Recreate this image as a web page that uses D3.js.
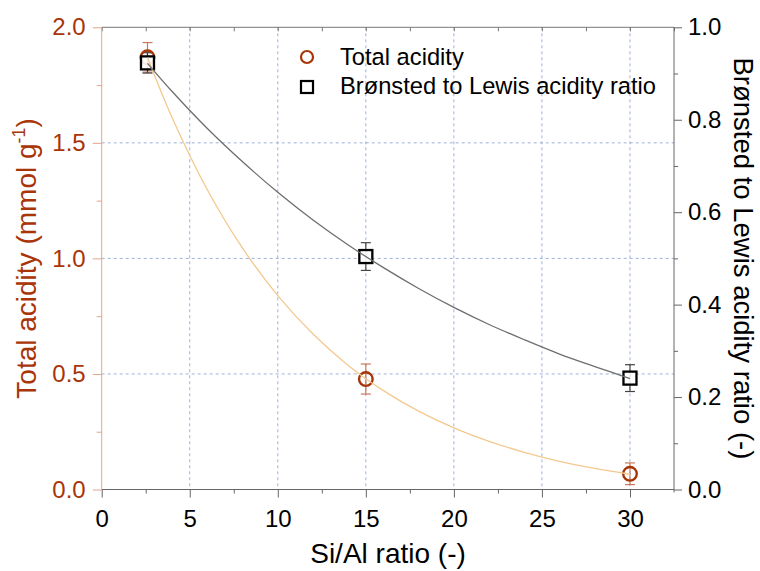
<!DOCTYPE html>
<html><head><meta charset="utf-8">
<script src="https://cdn.jsdelivr.net/npm/d3@7"></script>
<style>body{margin:0;background:#fff}svg{display:block}text{font-family:"Liberation Sans",Arial,sans-serif}</style>
</head><body><svg id="c" width="760" height="571"></svg>
<script>
// Measured points
const siAl = [2.6, 15, 30];
const totalAcidity = [1.87, 0.478, 0.068];
const totalAcidityErr = [0.064, 0.065, 0.047];
const blRatio = [0.923, 0.504, 0.241];
const blRatioErr = [0.022, 0.03, 0.029];
// Fitted curves
const fitX = [2.6, 4, 6, 8, 10, 12, 14, 16, 18, 20, 22, 24, 26, 28, 30];
const fitTotal = [1.869, 1.609, 1.297, 1.044, 0.839, 0.673, 0.537, 0.428, 0.339, 0.267, 0.208, 0.161, 0.122, 0.091, 0.066];
const fitRatio = [0.922, 0.861, 0.781, 0.709, 0.643, 0.583, 0.529, 0.480, 0.435, 0.394, 0.357, 0.324, 0.293, 0.266, 0.240];
// Tick labels
const xTicks = [0, 5, 10, 15, 20, 25, 30];
const yLeftTicks = [0, 0.5, 1.0, 1.5, 2.0];
const yRightTicks = [0, 0.2, 0.4, 0.6, 0.8, 1.0];
const legendLabels = ["Total acidity", "Brønsted to Lewis acidity ratio"];

const L = 101.7, R = 674, T = 27.3, B = 489.5;
const svg = d3.select("#c");
const x = d3.scaleLinear().domain([0, 32.5]).range([L, R]);
const yL = d3.scaleLinear().domain([0, 2]).range([B, T]);
const yR = d3.scaleLinear().domain([0, 1]).range([B, T]);
const red = "#a83508", redLight = "#e3a58c", gridC = "#9fb1d9", fitOrange = "#f3c98f", fitGray = "#6e6e6e";
const FF = "Liberation Sans, Arial, sans-serif";

// grid
const g = svg.append("g");
g.selectAll("line.vx").data(xTicks.filter(d => d > 0)).enter().append("line")
  .attr("x1", d => x(d)).attr("x2", d => x(d)).attr("y1", T).attr("y2", B)
  .attr("stroke", gridC).attr("stroke-width", 1).attr("stroke-dasharray", "3,3");
g.selectAll("line.hy").data([0.5, 1.0, 1.5]).enter().append("line")
  .attr("x1", L).attr("x2", R).attr("y1", d => yL(d)).attr("y2", d => yL(d))
  .attr("stroke", gridC).attr("stroke-width", 1).attr("stroke-dasharray", "3,3");

// axes
const fs = "24px";
const xAx = d3.axisBottom(x).tickValues(xTicks).tickSize(8).tickPadding(12).tickFormat(d3.format("d"));
const xMin = d3.axisBottom(x).tickValues(d3.range(2.5, 32.5, 5)).tickSize(4).tickFormat("");
const gx = svg.append("g").attr("transform", `translate(0,${B})`).call(xAx);
svg.append("g").attr("transform", `translate(0,${B})`).call(xMin).select(".domain").remove();
gx.selectAll("text").attr("font-size", fs).attr("fill", "#000").style("font-family", FF);
gx.select(".domain").attr("stroke", "#666").attr("d", `M${L},0H${R}`);
svg.selectAll(".tick line").attr("stroke", "#666");

// top axis
const gTop = svg.append("g").attr("transform", `translate(0,${T})`)
  .call(d3.axisBottom(x).tickValues(d3.range(0, 32.6, 2.5)).tickSize(4).tickFormat(""));
gTop.select(".domain").attr("stroke", "#777").attr("d", `M${L},0H${R}`);
gTop.selectAll(".tick line").attr("stroke", "#777");

// left axis
const yAx = d3.axisLeft(yL).tickValues(yLeftTicks).tickSize(9).tickPadding(7).tickFormat(d3.format(".1f"));
const gy = svg.append("g").attr("transform", `translate(${L},0)`).call(yAx);
const gyMin = svg.append("g").attr("transform", `translate(${L},0)`).call(d3.axisLeft(yL).tickValues([0.25, 0.75, 1.25, 1.75]).tickSize(5).tickFormat(""));
gyMin.select(".domain").remove();
gy.select(".domain").attr("stroke", redLight).attr("d", `M0,${B}V${T}`);
gy.selectAll(".tick line").attr("stroke", redLight);
gyMin.selectAll(".tick line").attr("stroke", redLight);
gy.selectAll("text").attr("font-size", fs).attr("fill", red).style("font-family", FF);

// right axis
const yrAx = d3.axisRight(yR).tickValues(yRightTicks).tickSize(8).tickPadding(6).tickFormat(d3.format(".1f"));
const gr = svg.append("g").attr("transform", `translate(${R},0)`).call(yrAx);
const grMin = svg.append("g").attr("transform", `translate(${R},0)`).call(d3.axisRight(yR).tickValues([0.1, 0.3, 0.5, 0.7, 0.9]).tickSize(4).tickFormat(""));
grMin.select(".domain").remove();
gr.select(".domain").attr("stroke", "#666").attr("d", `M0,${B + 3}V${T}`);
gr.selectAll(".tick line").attr("stroke", "#666");
grMin.selectAll(".tick line").attr("stroke", "#666");
gr.selectAll("text").attr("font-size", fs).attr("fill", "#000").style("font-family", FF);

// axis titles
svg.append("text").attr("x", 388).attr("y", 563).attr("text-anchor", "middle")
  .attr("font-size", "28px").attr("fill", "#000").text("Si/Al ratio (-)");
const lt = svg.append("text").attr("transform", `translate(36,${(T + B) / 2}) rotate(-90)`)
  .attr("text-anchor", "middle").attr("font-size", "28px").attr("fill", red);
lt.append("tspan").text("Total acidity (mmol g");
lt.append("tspan").attr("font-size", "18px").attr("dy", "-11").text("-1");
lt.append("tspan").attr("dy", "11").text(")");
svg.append("text").attr("transform", `translate(734,${(T + B) / 2}) rotate(90)`)
  .attr("text-anchor", "middle").attr("font-size", "27.5px").attr("fill", "#000")
  .text("Brønsted to Lewis acidity ratio (-)");

// error bars
function errBars(vals, errs, ys, col) {
  const eg = svg.append("g").attr("stroke", col).attr("stroke-width", 1.2);
  siAl.forEach((sx, i) => {
    const cx = x(sx), y1 = ys(vals[i] + errs[i]), y2 = ys(vals[i] - errs[i]);
    eg.append("line").attr("x1", cx).attr("x2", cx).attr("y1", y1).attr("y2", y2);
    eg.append("line").attr("x1", cx - 5).attr("x2", cx + 5).attr("y1", y1).attr("y2", y1);
    eg.append("line").attr("x1", cx - 5).attr("x2", cx + 5).attr("y1", y2).attr("y2", y2);
  });
}
errBars(totalAcidity, totalAcidityErr, yL, "#c9785a");
errBars(blRatio, blRatioErr, yR, "#444");

// circles
svg.append("g").selectAll("circle").data(siAl).enter().append("circle")
  .attr("cx", d => x(d)).attr("cy", (d, i) => yL(totalAcidity[i])).attr("r", 6.8)
  .attr("fill", "none").attr("stroke", red).attr("stroke-width", 2.4);
// squares
svg.append("g").selectAll("rect").data(siAl).enter().append("rect")
  .attr("x", d => x(d) - 6.5).attr("y", (d, i) => yR(blRatio[i]) - 6.5).attr("width", 13).attr("height", 13)
  .attr("fill", "#fff").attr("fill-opacity", 0.9).attr("stroke", "#000").attr("stroke-width", 2.3);

// fit curves
const lnL = d3.line().x(d => x(d[0])).y(d => yL(d[1])).curve(d3.curveCatmullRom);
const lnR = d3.line().x(d => x(d[0])).y(d => yR(d[1])).curve(d3.curveCatmullRom);
svg.append("path").datum(fitX.map((v, i) => [v, fitTotal[i]])).attr("d", lnL)
  .attr("fill", "none").attr("stroke", fitOrange).attr("stroke-width", 1.3);
svg.append("path").datum(fitX.map((v, i) => [v, fitRatio[i]])).attr("d", lnR)
  .attr("fill", "none").attr("stroke", fitGray).attr("stroke-width", 1.3);

// legend
const lg = svg.append("g");
lg.append("circle").attr("cx", 307).attr("cy", 57).attr("r", 6).attr("fill", "none").attr("stroke", red).attr("stroke-width", 2.2);
lg.append("rect").attr("x", 301).attr("y", 81).attr("width", 12).attr("height", 12).attr("fill", "none").attr("stroke", "#000").attr("stroke-width", 2.2);
lg.selectAll("text").data(legendLabels).enter().append("text")
  .attr("x", 340).attr("y", (d, i) => 65 + i * 29).attr("font-size", "23.7px").attr("fill", "#000").text(d => d);
</script></body></html>
